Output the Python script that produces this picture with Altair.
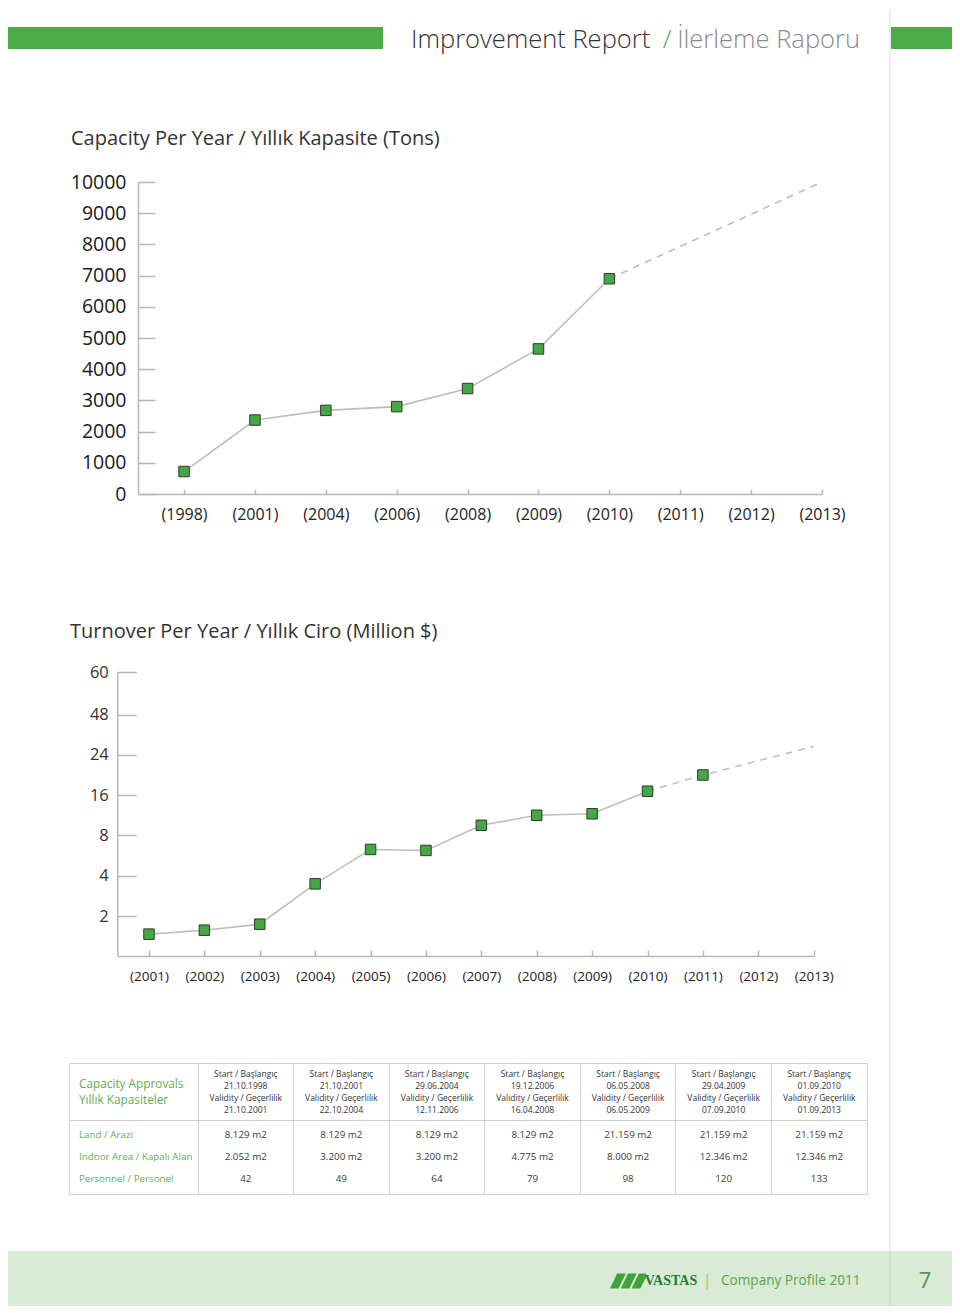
import json
import altair as alt
import pandas as pd

# ---------------- data ----------------
capacity_years = ["(1998)", "(2001)", "(2004)", "(2006)", "(2008)", "(2009)",
                  "(2010)", "(2011)", "(2012)", "(2013)"]
capacity_actual = [720, 2370, 2680, 2800, 3380, 4650, 6900]        # 1998 ... 2010
capacity_target_years = ["(2010)", "(2013)"]
capacity_target = [6900, 10000]                                    # dashed projection
capacity_ticks = [0, 1000, 2000, 3000, 4000, 5000, 6000, 7000, 8000, 9000, 10000]

turnover_years = ["(2001)", "(2002)", "(2003)", "(2004)", "(2005)", "(2006)", "(2007)",
                  "(2008)", "(2009)", "(2010)", "(2011)", "(2012)", "(2013)"]
turnover_actual = [1.1, 1.3, 1.6, 3.6, 6.6, 6.5, 10, 12, 12.3, 16.8, 20]   # 2001 ... 2011
turnover_solid_last = "(2010)"
turnover_target_years = ["(2010)", "(2011)", "(2013)"]
turnover_target = [16.8, 20, 29]
turnover_ticks = [2, 4, 8, 16, 24, 48, 60]
turnover_breaks = [0, 2, 4, 8, 16, 24, 48, 60]

approval_start = ["21.10.1998", "21.10.2001", "29.06.2004", "19.12.2006",
                  "06.05.2008", "29.04.2009", "01.09.2010"]
approval_valid = ["21.10.2001", "22.10.2004", "12.11.2006", "16.04.2008",
                  "06.05.2009", "07.09.2010", "01.09.2013"]
land = ["8.129 m2", "8.129 m2", "8.129 m2", "8.129 m2", "21.159 m2", "21.159 m2", "21.159 m2"]
indoor = ["2.052 m2", "3.200 m2", "3.200 m2", "4.775 m2", "8.000 m2", "12.346 m2", "12.346 m2"]
personnel = ["42", "49", "64", "79", "98", "120", "133"]
row_labels = ["Land / Arazi", "Indoor Area / Kapalı Alan", "Personnel / Personel"]
table_title = "Capacity Approvals\nYıllık Kapasiteler"
start_label = "Start / Başlangıç"
valid_label = "Validity / Geçerlilik"

page_title = ["Improvement Report", "/", "İlerleme Raporu"]
capacity_title = "Capacity Per Year / Yıllık Kapasite (Tons)"
turnover_title = "Turnover Per Year / Yıllık Ciro (Million $)"
footer_text = "Company Profile 2011"
footer_brand = "VASTAS"
page_number = "7"

# ---------------- style ----------------
FONT = "Open Sans"
W = 944
GREEN = "#4bab48"
AXIS = "#b7b7b7"
LINE = "#bdbdbd"
MK_FILL = "#45a845"
MK_STROKE = "#2e3b2e"
ONE = pd.DataFrame({"k": [0]})


def spacer(w, h):
    return alt.Chart(ONE).mark_text(text="").encode(
        x=alt.value(0), y=alt.value(0)).properties(width=w, height=h)


def text_mark(txt, x, y, size, color, align="left", weight=400, font=FONT, baseline="middle"):
    return alt.Chart(ONE).mark_text(
        text=txt, align=align, baseline=baseline, fontSize=size, color=color,
        fontWeight=weight, font=font).encode(x=alt.value(x), y=alt.value(y))


def line_chart(years, actual, solid_last, t_years, t_vals, yscale, yticks, height,
               xrange, left_gap, ytick_len, xtick_len, ylab_size, ylab_pad, ylab_color,
               xlab_size, xlab_pad):
    n = len(years)
    df = pd.DataFrame({"year": years[:len(actual)], "idx": list(range(len(actual))), "value": actual})
    solid_df = df[df["idx"] <= years.index(solid_last)]
    dash_df = pd.DataFrame({"year": t_years, "idx": [years.index(y) for y in t_years], "value": t_vals})
    xs = alt.Scale(domain=[-left_gap, n - 1], range=xrange, nice=False, zero=False)
    label_expr = json.dumps(years) + "[datum.value]"
    x_main = alt.X("idx:Q", scale=xs, axis=alt.Axis(
        orient="bottom", values=list(range(n)), labelExpr=label_expr, ticks=False,
        domain=True, domainColor=AXIS, domainWidth=1.5, labelFontSize=xlab_size,
        labelPadding=xlab_pad, labelColor="#222222", labelFont=FONT, grid=False, title=None,
        labelFlush=False, labelOverlap=False))
    y_main = alt.Y("value:Q", scale=yscale, axis=alt.Axis(
        orient="left", offset=-xrange[0], values=yticks, format="d", ticks=False, domain=True,
        domainColor=AXIS, domainWidth=1.5, labelFontSize=ylab_size, labelPadding=ylab_pad,
        labelColor=ylab_color, labelFont=FONT, grid=False, title=None, labelOverlap=False))
    solid = alt.Chart(solid_df).mark_line(color=LINE, strokeWidth=1.6).encode(x=x_main, y=y_main)
    dashed = alt.Chart(dash_df).mark_line(color=LINE, strokeWidth=1.6, strokeDash=[7, 6]).encode(
        x=alt.X("idx:Q", scale=xs, axis=None), y=alt.Y("value:Q", scale=yscale, axis=None))
    pts = alt.Chart(df).mark_square(size=110, fill=MK_FILL, stroke=MK_STROKE, strokeWidth=1,
                                    opacity=1, filled=True).encode(
        x=alt.X("idx:Q", scale=xs, axis=alt.Axis(
            orient="bottom", offset=-xtick_len, tickSize=xtick_len, values=list(range(n)),
            labels=False, domain=False, ticks=True, tickColor=AXIS, tickWidth=1.5,
            grid=False, title=None)),
        y=alt.Y("value:Q", scale=yscale, axis=alt.Axis(
            orient="left", offset=-(xrange[0] + ytick_len), tickSize=ytick_len, values=yticks,
            labels=False, domain=False, ticks=True, tickColor=AXIS, tickWidth=1.5,
            grid=False, title=None)))
    return alt.layer(solid, dashed, pts).resolve_axis(x="independent", y="independent").properties(
        width=W, height=height)


# ---------------- header ----------------
header = alt.layer(
    alt.Chart(ONE).mark_rule(color="#dcdcdc", strokeWidth=1).encode(
        x=alt.value(882), y=alt.value(0), y2=alt.value(1297)),
    alt.Chart(ONE).mark_rect(color=GREEN).encode(
        x=alt.value(0), x2=alt.value(375), y=alt.value(18), y2=alt.value(40)),
    alt.Chart(ONE).mark_rect(color=GREEN).encode(
        x=alt.value(883), x2=alt.value(944), y=alt.value(18), y2=alt.value(40)),
    text_mark(page_title[0], 403, 39, 25.5, "#333333", weight=300, baseline="alphabetic"),
    text_mark(page_title[1], 659, 39, 25.5, GREEN, align="center", weight=300, baseline="alphabetic"),
    text_mark(page_title[2], 852, 39, 25.5, "#8a8a8a", align="right", weight=300, baseline="alphabetic"),
    text_mark(capacity_title, 63, 130, 20, "#333333"),
).properties(width=W, height=173)

# ---------------- chart 1 ----------------
cap_scale = alt.Scale(domain=[0, 10000], nice=False, zero=False)
chart1 = line_chart(capacity_years, capacity_actual, "(2010)", capacity_target_years,
                    capacity_target, cap_scale, capacity_ticks, 312,
                    [130, 814], 0.65, 17, 5, 19.5, 12, "#1a1a1a", 16, 12)

gap1 = alt.layer(text_mark(turnover_title, 62, 138, 20, "#333333")).properties(width=W, height=178)

# ---------------- chart 2 ----------------
turn_scale = alt.Scale(domain=turnover_breaks,
                       range=[284, 244.3, 203.7, 163.3, 123.3, 82.7, 42.7, 0],
                       nice=False, zero=False)
chart2 = line_chart(turnover_years, turnover_actual, turnover_solid_last, turnover_target_years,
                    turnover_target, turn_scale, turnover_ticks, 284,
                    [109.3, 805.7], 0.572, 19, 6, 16.5, 9, "#333333", 13.5, 13)

gap2 = spacer(W, 107)

# ---------------- table ----------------
cols = [f"c{i}" for i in range(len(approval_start))]
BORDER = alt.ViewBackground(stroke="#cfcfcf", strokeWidth=1)
col_x = alt.X("col:N", scale=alt.Scale(type="band", domain=cols, paddingInner=0, paddingOuter=0),
              axis=alt.Axis(grid=True, bandPosition=0, gridColor="#cfcfcf", gridWidth=1,
                            labels=False, ticks=False, domain=False, title=None, orient="top"))

hdr_df = pd.DataFrame({"col": cols, "txt": [f"{start_label}\n{s}\n{valid_label}\n{v}"
                                            for s, v in zip(approval_start, approval_valid)]})
values_hdr = alt.Chart(hdr_df).mark_text(
    lineBreak="\n", lineHeight=12, fontSize=8.5, color="#333333", font=FONT, baseline="middle"
).encode(x=col_x, y=alt.value(11), text="txt:N").properties(width=669, height=57, view=BORDER)

label_hdr = alt.Chart(ONE).mark_text(
    text=table_title, lineBreak="\n", lineHeight=16, align="left", baseline="middle",
    fontSize=11.8, color="#5fae55", font=FONT
).encode(x=alt.value(10), y=alt.value(21)).properties(width=129, height=57, view=BORDER)

row_keys = ["land", "indoor", "personnel"]
body_rows = []
for key, vals in zip(row_keys, [land, indoor, personnel]):
    for c, v in zip(cols, vals):
        body_rows.append({"col": c, "row": key, "txt": v})
body_df = pd.DataFrame(body_rows)
row_y = alt.Y("row:N", scale=alt.Scale(type="point", domain=row_keys, padding=0.68), axis=None)

values_body = alt.Chart(body_df).mark_text(
    fontSize=9.8, color="#3a3a3a", font=FONT, baseline="middle"
).encode(x=col_x, y=row_y, text="txt:N").properties(width=669, height=74, view=BORDER)

label_body = alt.Chart(pd.DataFrame({"row": row_keys, "txt": row_labels})).mark_text(
    fontSize=9.8, color="#5fae55", font=FONT, align="left", baseline="middle"
).encode(x=alt.value(10), y=row_y, text="txt:N").properties(width=129, height=74, view=BORDER)

# nested concats count as zero height in the flush layout, so spacers follow them
table_hdr = alt.hconcat(spacer(61, 57), label_hdr, values_hdr, spacing=0, bounds="flush")
hdr_room = spacer(W, 57)
table_body = alt.hconcat(spacer(61, 74), label_body, values_body, spacing=0, bounds="flush")
body_room = spacer(W, 74 + 57)

# ---------------- footer ----------------
LOGO = ("M -1 0.42 L -0.52 0.42 L -0.12 -0.42 L -0.6 -0.42 Z "
        "M -0.4 0.42 L 0.08 0.42 L 0.48 -0.42 L 0 -0.42 Z "
        "M 0.2 0.42 L 0.68 0.42 L 1 -0.2 L 1 -0.42 L 0.6 -0.42 Z")
footer = alt.layer(
    alt.Chart(ONE).mark_rule(color="#c4d6bf", strokeWidth=1).encode(
        x=alt.value(882), y=alt.value(0), y2=alt.value(55)),
    alt.Chart(ONE).mark_point(shape=LOGO, filled=True, size=1300, color="#3fa33a", opacity=1).encode(
        x=alt.value(620), y=alt.value(30)),
    text_mark(footer_brand, 663, 30, 14, "#1d7b35", align="center", weight=700,
              font="Liberation Serif"),
    text_mark("|", 699, 30, 16, "#6aaa62", align="center", weight=300),
    text_mark(footer_text, 713, 30, 13.6, "#57a352"),
    text_mark(page_number, 917, 30, 22, "#4f9a4a", align="center"),
).properties(width=W, height=55, view=alt.ViewBackground(fill="#d9ebd4"))

page = alt.vconcat(header, chart1, gap1, chart2, gap2, table_hdr, hdr_room, table_body, body_room,
                   footer, spacing=0, bounds="flush").properties(
    padding=0, background="white"
).configure_view(stroke=None).configure_axis(grid=False)

page.save("out.html", embed_options={"renderer": "svg", "actions": False})
